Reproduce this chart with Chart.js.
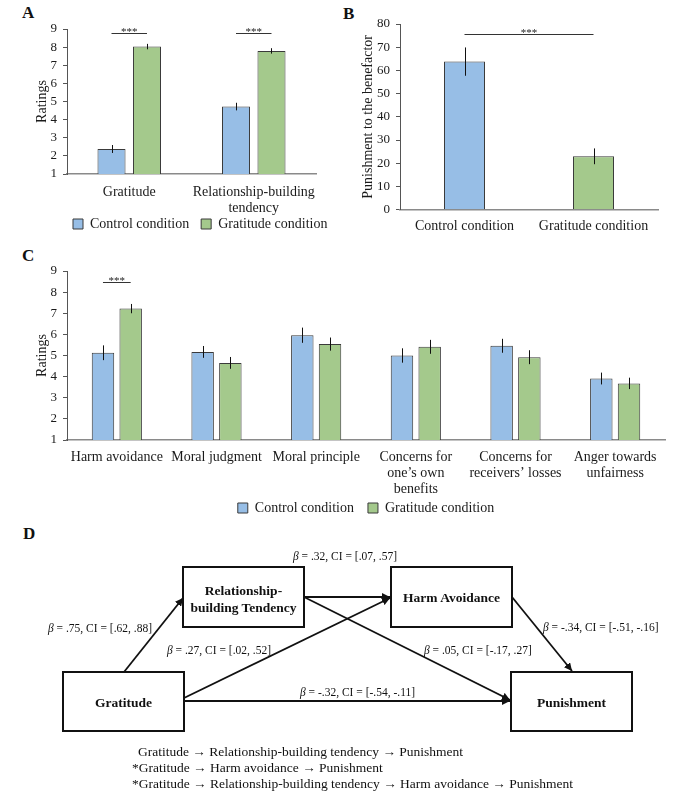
<!DOCTYPE html>
<html>
<head>
<meta charset="utf-8">
<script src="https://cdn.jsdelivr.net/npm/chart.js@4.4.1/dist/chart.umd.min.js"></script>
<style>
  body { margin: 0; background: #fff; width: 694px; height: 796px; position: relative; overflow: hidden;
         font-family: "Liberation Serif", "Times New Roman", serif; }
  .box { position: absolute; }
  .lab { position: absolute; font-weight: bold; font-size: 17px; line-height: 20px; color: #111; }
  svg text { font-family: "Liberation Serif", "Times New Roman", serif; fill: #111; }
</style>
</head>
<body>
<div class="lab" style="left:22px;top:3px">A</div>
<div class="lab" style="left:343px;top:4px">B</div>
<div class="lab" style="left:22px;top:246px">C</div>
<div class="lab" style="left:23px;top:524px">D</div>

<div class="box" style="left:0;top:0;width:340px;height:241px"><canvas id="chartA"></canvas></div>
<div class="box" style="left:340px;top:0;width:354px;height:240px"><canvas id="chartB"></canvas></div>
<div class="box" style="left:0;top:240px;width:694px;height:285px"><canvas id="chartC"></canvas></div>

<svg class="box" style="left:0;top:520px" width="694" height="276" viewBox="0 520 694 276">
  <defs>
    <marker id="arr" markerUnits="userSpaceOnUse" markerWidth="9" markerHeight="8" refX="8" refY="4" orient="auto">
      <path d="M0,0 L8,4 L0,8 Z" fill="#111"/>
    </marker>
  </defs>
  <g fill="none" stroke="#111" stroke-width="2">
    <rect x="183" y="567" width="121" height="60"/>
    <rect x="391" y="567" width="121" height="60"/>
    <rect x="63" y="672" width="121" height="59"/>
    <rect x="511" y="672" width="121" height="59"/>
  </g>
  <g stroke="#111" stroke-width="1.8" marker-end="url(#arr)">
    <line x1="124" y1="672" x2="183" y2="598"/>
    <line x1="304" y1="597" x2="390" y2="597"/>
    <line x1="184" y1="698" x2="390" y2="598"/>
    <line x1="304" y1="597" x2="510" y2="700"/>
    <line x1="184" y1="701" x2="510" y2="701"/>
    <line x1="512" y1="597" x2="572" y2="671"/>
  </g>
  <g font-weight="bold" font-size="13.5" text-anchor="middle" dominant-baseline="central">
    <text x="243.5" y="590">Relationship-</text>
    <text x="243.5" y="607">building Tendency</text>
    <text x="451.5" y="597">Harm Avoidance</text>
    <text x="123.5" y="702">Gratitude</text>
    <text x="571.5" y="702">Punishment</text>
  </g>
  <g font-size="11.5" dominant-baseline="central">
    <text x="293" y="556"><tspan font-style="italic">β</tspan> = .32, CI = [.07, .57]</text>
    <text x="48" y="628"><tspan font-style="italic">β</tspan> = .75, CI = [.62, .88]</text>
    <text x="167" y="650"><tspan font-style="italic">β</tspan> = .27, CI = [.02, .52]</text>
    <text x="300" y="692"><tspan font-style="italic">β</tspan> = -.32, CI = [-.54, -.11]</text>
    <text x="424" y="650"><tspan font-style="italic">β</tspan> = .05, CI = [-.17, .27]</text>
    <text x="543" y="627"><tspan font-style="italic">β</tspan> = -.34, CI = [-.51, -.16]</text>
  </g>
  <g font-size="13.5" dominant-baseline="central">
    <text x="138" y="751">Gratitude → Relationship-building tendency → Punishment</text>
    <text x="132" y="767">*Gratitude → Harm avoidance → Punishment</text>
    <text x="132" y="783">*Gratitude → Relationship-building tendency → Harm avoidance → Punishment</text>
  </g>
</svg>

<script>
// panel A
const catsA = ['Gratitude', ['Relationship-building', 'tendency']];
const ctrlA = [2.38, 4.72];
const gratA = [8.03, 7.79];
const ctrlAErr = [0.22, 0.21];
const gratAErr = [0.15, 0.15];

// panel B
const catsB = ['Control condition', 'Gratitude condition'];
const punishB = [63.8, 23.0];
const punishBErr = [6.1, 3.4];

// panel C
const catsC = ['Harm avoidance', 'Moral judgment', 'Moral principle',
  ['Concerns for', 'one\u2019s own', 'benefits'],
  ['Concerns for', 'receivers\u2019 losses'],
  ['Anger towards', 'unfairness']];
const ctrlC = [5.13, 5.17, 5.96, 5.00, 5.46, 3.91];
const gratC = [7.22, 4.65, 5.54, 5.41, 4.92, 3.68];
const ctrlCErr = [0.35, 0.28, 0.36, 0.34, 0.33, 0.28];
const gratCErr = [0.22, 0.28, 0.31, 0.33, 0.33, 0.27];

const seriesNames = ['Control condition', 'Gratitude condition'];

const FONT = "'Liberation Serif', 'Times New Roman', serif";
const BLUE = '#97BEE6';
const GREEN = '#A4C98C';
const EDGE = '#3a3a3a';

Chart.defaults.font.family = FONT;
Chart.defaults.color = '#1a1a1a';
Chart.defaults.animation = false;

const errorBars = {
  id: 'errorBars',
  afterDatasetsDraw(chart) {
    const ctx = chart.ctx, y = chart.scales.y;
    chart.data.datasets.forEach((ds, i) => {
      if (!ds.errors) return;
      chart.getDatasetMeta(i).data.forEach((bar, j) => {
        const v = ds.data[j], e = ds.errors[j];
        const x = Math.round(bar.x) + 0.5;
        ctx.save();
        ctx.strokeStyle = '#111';
        ctx.lineWidth = 1;
        ctx.beginPath();
        ctx.moveTo(x, y.getPixelForValue(v + e));
        ctx.lineTo(x, y.getPixelForValue(v - e));
        ctx.stroke();
        ctx.restore();
      });
    });
  }
};

const sigLines = {
  id: 'sigLines',
  afterDatasetsDraw(chart, args, opts) {
    const ctx = chart.ctx;
    (opts.items || []).forEach(it => {
      const a = chart.getDatasetMeta(it.from[0]).data[it.from[1]];
      const b = chart.getDatasetMeta(it.to[0]).data[it.to[1]];
      const py = Math.round(chart.scales.y.getPixelForValue(it.y)) + 0.5;
      ctx.save();
      ctx.strokeStyle = '#333';
      ctx.lineWidth = 1;
      ctx.beginPath();
      ctx.moveTo(a.x, py);
      ctx.lineTo(b.x, py);
      ctx.stroke();
      ctx.fillStyle = '#222';
      ctx.font = '11px ' + FONT;
      ctx.textAlign = 'center';
      ctx.textBaseline = 'alphabetic';
      ctx.fillText('***', (a.x + b.x) / 2, py + 1);
      ctx.restore();
    });
  }
};

// nudge the legend sideways after layout
const legendShift = {
  id: 'legendShift',
  afterLayout(chart, args, opts) {
    if (chart.legend && opts.dx) {
      chart.legend.left += opts.dx;
      chart.legend.right += opts.dx;
    }
  }
};

function yAxis(min, max, step, title, width) {
  return {
    min: min, max: max,
    afterFit: s => { s.width = width; },
    ticks: { stepSize: step, autoSkip: false, padding: 6, font: { size: 13 }, color: '#1a1a1a' },
    grid: { drawOnChartArea: false, drawTicks: true, tickLength: 4, color: '#555' },
    border: { color: '#555', width: 1 },
    title: { display: true, text: title, font: { size: 14 }, padding: 0, color: '#1a1a1a' }
  };
}

function xAxis(height, pad) {
  return {
    // fixed height, labels allowed to run below it (no clip)
    afterFit: s => { s.height = height; s._computeLabelArea = () => undefined; },
    grid: { display: false, drawTicks: false },
    border: { color: '#8a8a8a', width: 1.5 },
    ticks: { maxRotation: 0, autoSkip: false, padding: pad, font: { size: 14, lineHeight: 1.15 }, color: '#1a1a1a' }
  };
}

function legendOpts(fullSize, align, pad) {
  return {
    display: true, position: 'bottom', fullSize: fullSize, align: align,
    labels: { boxWidth: 10, boxHeight: 10, padding: pad, font: { size: 14 }, color: '#1a1a1a' }
  };
}

// A
new Chart(document.getElementById('chartA'), {
  type: 'bar',
  data: {
    labels: catsA,
    datasets: [
      { label: seriesNames[0], data: ctrlA, errors: ctrlAErr, backgroundColor: BLUE, borderColor: EDGE, borderWidth: 1 },
      { label: seriesNames[1], data: gratA, errors: gratAErr, backgroundColor: GREEN, borderColor: EDGE, borderWidth: 1 }
    ]
  },
  options: {
    responsive: true,
    maintainAspectRatio: false,
    categoryPercentage: 0.57,
    barPercentage: 0.79,
    layout: { padding: { left: 34, right: 24, top: 29, bottom: 0 } },
    scales: { x: xAxis(31, 10), y: yAxis(1, 9, 1, 'Ratings', 33) },
    plugins: {
      legend: legendOpts(true, 'start', 12),
      legendShift: { dx: 27 },
      tooltip: { enabled: false },
      sigLines: { items: [ { from: [0, 0], to: [1, 0], y: 8.78 }, { from: [0, 1], to: [1, 1], y: 8.78 } ] }
    }
  },
  plugins: [errorBars, sigLines, legendShift]
});

// B
new Chart(document.getElementById('chartB'), {
  type: 'bar',
  data: {
    labels: catsB,
    datasets: [
      { label: 'Punishment', data: punishB, errors: punishBErr, backgroundColor: [BLUE, GREEN], borderColor: EDGE, borderWidth: 1 }
    ]
  },
  options: {
    responsive: true,
    maintainAspectRatio: false,
    categoryPercentage: 0.318,
    barPercentage: 1,
    layout: { padding: { left: 20, right: 36, top: 24, bottom: 0 } },
    scales: { x: xAxis(30.3, 9), y: yAxis(0, 80, 10, 'Punishment to the benefactor', 40) },
    plugins: {
      legend: { display: false },
      tooltip: { enabled: false },
      sigLines: { items: [ { from: [0, 0], to: [0, 1], y: 75.7 } ] }
    }
  },
  plugins: [errorBars, sigLines]
});

// C
new Chart(document.getElementById('chartC'), {
  type: 'bar',
  data: {
    labels: catsC,
    datasets: [
      { label: seriesNames[0], data: ctrlC, errors: ctrlCErr, backgroundColor: BLUE, borderColor: EDGE, borderWidth: 1 },
      { label: seriesNames[1], data: gratC, errors: gratCErr, backgroundColor: GREEN, borderColor: EDGE, borderWidth: 1 }
    ]
  },
  options: {
    responsive: true,
    maintainAspectRatio: false,
    categoryPercentage: 0.556,
    barPercentage: 0.81,
    layout: { padding: { left: 34, right: 29, top: 31, bottom: 0 } },
    scales: { x: xAxis(47, 9), y: yAxis(1, 9, 1, 'Ratings', 33) },
    plugins: {
      legend: legendOpts(false, 'center', 14),
      tooltip: { enabled: false },
      sigLines: { items: [ { from: [0, 0], to: [1, 0], y: 8.47 } ] }
    }
  },
  plugins: [errorBars, sigLines]
});
</script>
</body>
</html>
